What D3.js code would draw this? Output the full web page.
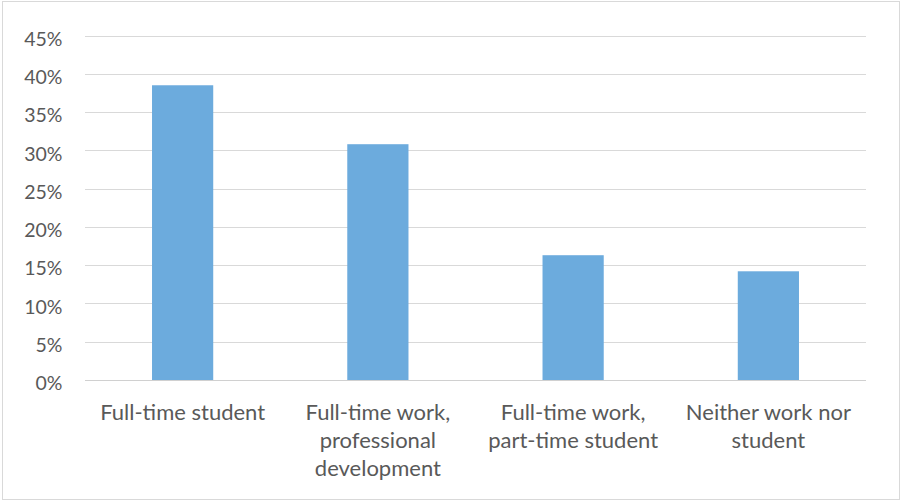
<!DOCTYPE html>
<html>
<head>
<meta charset="utf-8">
<script src="https://cdn.jsdelivr.net/npm/d3@7/dist/d3.min.js"></script>
<style>
  html, body { margin: 0; padding: 0; background: #fff; }
  svg { display: block; }
  text { font-family: Lato, "Open Sans", sans-serif; fill: #595959; }
</style>
</head>
<body>
<svg id="chart" width="902" height="501"></svg>
<script>
// Share of respondents by work / study status
const categories = [
  ["Full-time student"],
  ["Full-time work,", "professional", "development"],
  ["Full-time work,", "part-time student"],
  ["Neither work nor", "student"]
];
const values = [0.385, 0.308, 0.163, 0.142];
const yTicks = [0, 0.05, 0.10, 0.15, 0.20, 0.25, 0.30, 0.35, 0.40, 0.45];

const W = 902, H = 501;
const margin = { left: 85, right: 36, top: 35.5, bottom: 121 };

const svg = d3.select("#chart");

// outer chart frame
svg.append("rect")
  .attr("x", 2.5).attr("y", 1.5)
  .attr("width", W - 5).attr("height", H - 3)
  .attr("fill", "#fff")
  .attr("stroke", "#d9d9d9")
  .attr("stroke-width", 1);

const x = d3.scaleBand()
  .domain(d3.range(categories.length))
  .range([margin.left, W - margin.right])
  .paddingInner(0.6865)
  .paddingOuter(0.34325);

const y = d3.scaleLinear()
  .domain([0, 0.45])
  .range([H - margin.bottom, margin.top]);

// horizontal gridlines
svg.append("g")
  .selectAll("line")
  .data(yTicks.filter(t => t > 0))
  .join("line")
  .attr("x1", margin.left).attr("x2", W - margin.right)
  .attr("y1", d => Math.round(y(d)) + 0.5)
  .attr("y2", d => Math.round(y(d)) + 0.5)
  .attr("stroke", "#d9d9d9")
  .attr("stroke-width", 1);

// y axis labels
const yAxis = d3.axisLeft(y)
  .tickValues(yTicks)
  .tickFormat(d3.format(".0%"))
  .tickSize(0)
  .tickPadding(0);
const gy = svg.append("g")
  .attr("transform", `translate(${margin.left - 22.5},0)`)
  .call(yAxis);
gy.select(".domain").remove();
gy.selectAll("text")
  .attr("font-size", 19.5)
  .attr("dy", "0.5em")
  .attr("font-family", "Lato, 'Open Sans', sans-serif")
  .attr("fill", "#595959");

// bars
svg.append("g")
  .selectAll("rect")
  .data(values)
  .join("rect")
  .attr("x", (d, i) => x(i))
  .attr("width", x.bandwidth())
  .attr("y", d => y(d))
  .attr("height", d => y(0) - y(d))
  .attr("fill", "#6cabdd");

// category axis line
svg.append("line")
  .attr("x1", margin.left).attr("x2", W - margin.right)
  .attr("y1", Math.round(y(0)) + 0.5).attr("y2", Math.round(y(0)) + 0.5)
  .attr("stroke", "#d0d0d0")
  .attr("stroke-width", 1.2);

// category labels (multi-line)
const xAxis = d3.axisBottom(x).tickSize(0).tickFormat("");
const gx = svg.append("g")
  .attr("transform", `translate(0,${y(0)})`)
  .call(xAxis);
gx.select(".domain").remove();
gx.selectAll(".tick").each(function(i) {
  const t = d3.select(this).append("text")
    .attr("text-anchor", "middle")
    .attr("font-size", 22)
    .attr("font-family", "Lato, 'Open Sans', sans-serif")
    .attr("fill", "#595959");
  categories[i].forEach((line, k) => {
    t.append("tspan")
      .attr("x", 0)
      .attr("y", 39.5 + k * 28)
      .text(line);
  });
});
</script>
</body>
</html>
